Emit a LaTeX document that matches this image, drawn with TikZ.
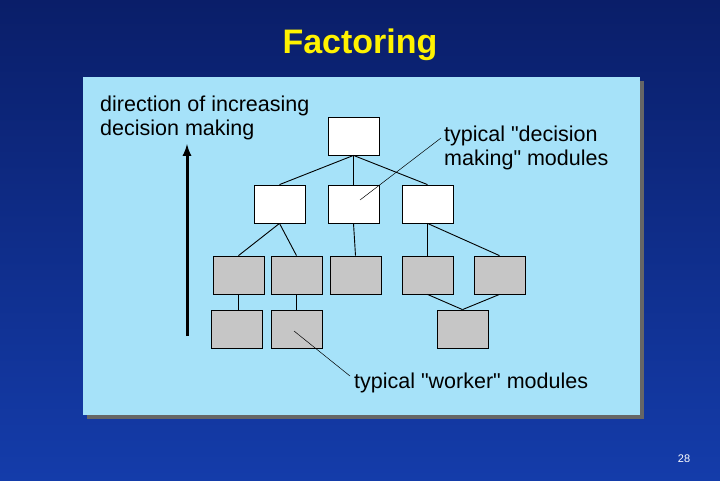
\documentclass[tikz,border=0pt]{standalone}
\usepackage{fontspec}
\setmainfont{Liberation Sans}
\newfontfamily\qf{Liberation Sans}
\newcommand{\qq}{{\qf"}}
\begin{document}
\begin{tikzpicture}[x=1pt,y=-1pt,
  wbox/.style={draw=black,fill=white,line width=0.8pt,minimum width=51pt,minimum height=38pt,inner sep=0},
  gbox/.style={draw=black,fill=gray!45,line width=0.8pt,minimum width=51pt,minimum height=38pt,inner sep=0},
  conn/.style={line width=0.9pt},
  lab/.style={font=\fontsize{21.5}{24}\selectfont,align=left,inner sep=0}]
\useasboundingbox (0,0) rectangle (720,480);
\definecolor{bgtop}{RGB}{10,30,105}
\definecolor{bgbot}{RGB}{20,60,170}
\shade[top color=bgtop, bottom color=bgbot] (0,0) rectangle (720,480);
\node[font=\bfseries\fontsize{34}{36}\selectfont,text=yellow] (title) at (360,45) {Factoring};
\fill[black!60] (87,81) rectangle (644,419);
\fill[cyan!35!white] (83,77) rectangle (640,415);
\node[wbox] (t) at (353.5,136) {};
\node[wbox] (m1) at (279.5,204) {};
\node[wbox] (m2) at (353.5,204) {};
\node[wbox] (m3) at (427.5,204) {};
\node[gbox] (g1) at (238.5,275) {};
\node[gbox] (g2) at (296.5,275) {};
\node[gbox] (g3) at (355.5,275) {};
\node[gbox] (g4) at (427.5,275) {};
\node[gbox] (g5) at (499.5,275) {};
\node[gbox] (h1) at (236.5,329) {};
\node[gbox] (h2) at (296.5,329) {};
\node[gbox] (h3) at (462.5,329) {};
\draw[conn] (t.south) -- (m1.north);
\draw[conn] (t.south) -- (m2.north);
\draw[conn] (t.south) -- (m3.north);
\draw[conn] (m1.south) -- (g1.north);
\draw[conn] (m1.south) -- (g2.north);
\draw[conn] (m2.south) -- (g3.north);
\draw[conn] (m3.south) -- (g4.north);
\draw[conn] (m3.south) -- (g5.north);
\draw[conn] (g1.south) -- (g1.south|-h1.north);
\draw[conn] (g2.south) -- (h2.north);
\draw[conn] (g4.south) -- (h3.north);
\draw[conn] (g5.south) -- (h3.north);
\coordinate (a0) at (187,336);
\coordinate (a1) at (187,144);
\draw[line width=3pt,-latex] (a0) -- (a1);
\node[lab,anchor=north west] (dir) at (100,96) {direction of increasing\\decision making};
\node[lab,anchor=north west] (dm) at (444,126) {typical \qq decision\\making\qq{} modules};
\node[lab,anchor=north west] (wk) at (354,373) {typical \qq worker\qq{} modules};
\coordinate (p1) at (441,138);
\coordinate (p2) at (360,200);
\draw[line width=0.5pt] (p1) -- (p2);
\coordinate (q1) at (350,376);
\coordinate (q2) at (294,331);
\draw[line width=0.5pt] (q1) -- (q2);
\node[font=\fontsize{11}{12}\selectfont,text=white] (pg) at (684,459) {28};
\end{tikzpicture}
\end{document}
